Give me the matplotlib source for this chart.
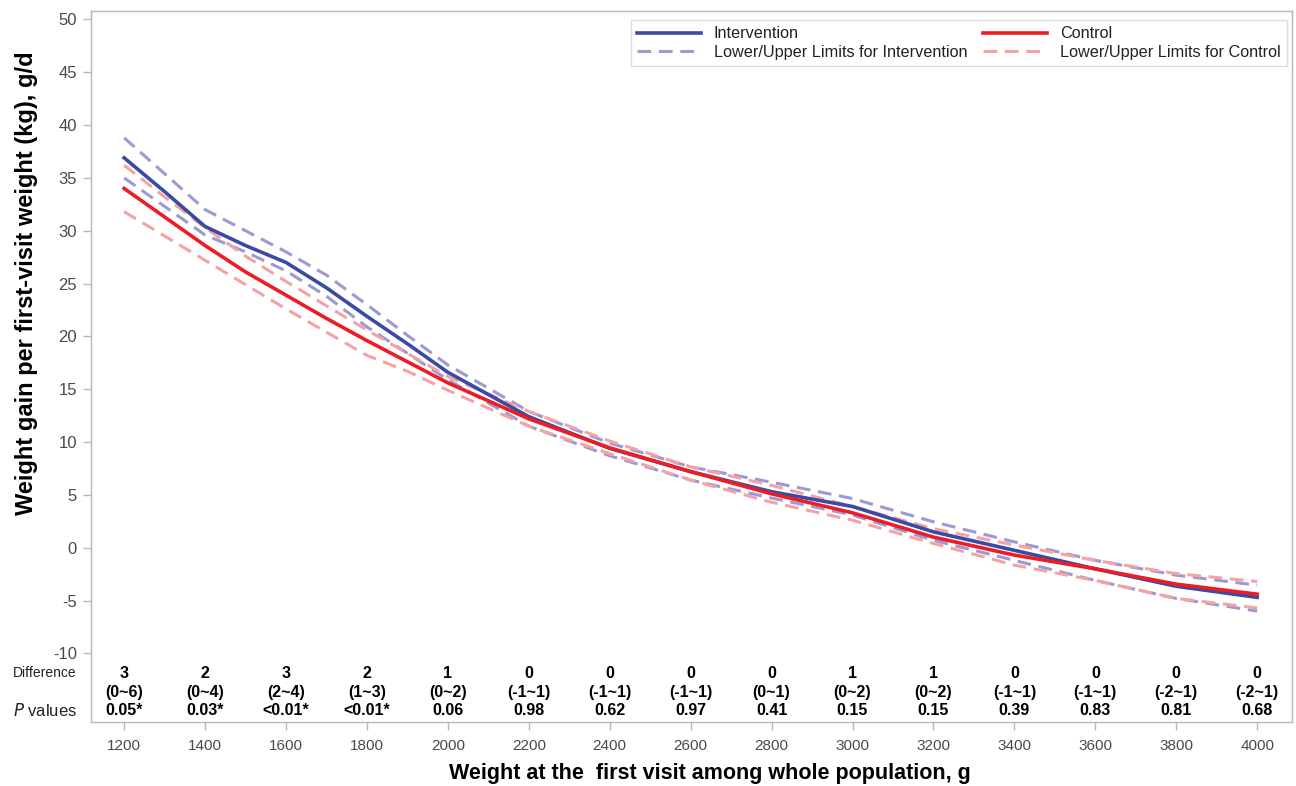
import numpy as np
import matplotlib
matplotlib.use("Agg")
import matplotlib.pyplot as plt
from matplotlib.lines import Line2D

plt.rcParams["font.family"] = ["Liberation Sans", "DejaVu Sans"]
plt.rcParams["axes.unicode_minus"] = False

# Weight at first visit (g), x positions of the curve readings
weights = [1200, 1300, 1400, 1500, 1600, 1700, 1800, 1900, 2000, 2200, 2400,
           2600, 2800, 3000, 3200, 3400, 3600, 3800, 4000]

# Weight gain per first-visit weight, g/d
intervention = [36.9, 33.7, 30.4, 28.6, 27.0, 24.6, 21.9, 19.3, 16.6, 12.4,
                9.4, 7.2, 5.3, 3.9, 1.5, -0.25, -2.0, -3.65, -4.7]
intervention_upper = [38.8, 35.4, 32.0, 30.0, 28.0, 25.8, 23.0, 20.1, 17.3, 12.9,
                      9.9, 7.65, 6.2, 4.65, 2.45, 0.55, -1.2, -2.6, -3.55]
intervention_lower = [35.0, 32.3, 29.6, 28.0, 26.2, 23.8, 20.9, 18.4, 15.9, 11.5,
                      8.7, 6.4, 4.7, 3.1, 0.7, -1.2, -3.1, -4.8, -6.0]
control = [34.0, 31.3, 28.6, 26.1, 23.9, 21.7, 19.6, 17.6, 15.6, 12.2,
           9.45, 7.2, 5.1, 3.3, 1.0, -0.7, -2.0, -3.45, -4.4]
control_upper = [36.2, 33.2, 30.3, 27.6, 25.2, 22.9, 20.6, 18.4, 16.2, 12.9,
                 10.1, 7.65, 5.9, 3.9, 1.8, 0.25, -1.2, -2.45, -3.2]
control_lower = [31.8, 29.5, 27.2, 24.9, 22.6, 20.4, 18.2, 16.7, 14.9, 11.5,
                 8.9, 6.4, 4.3, 2.6, 0.4, -1.65, -3.1, -4.8, -5.7]

# Table under the curves, one column per tick
tick_weights = [1200, 1400, 1600, 1800, 2000, 2200, 2400, 2600, 2800, 3000,
                3200, 3400, 3600, 3800, 4000]
difference = ["3", "2", "3", "2", "1", "0", "0", "0", "0", "1", "1", "0", "0", "0", "0"]
diff_ci = ["(0~6)", "(0~4)", "(2~4)", "(1~3)", "(0~2)", "(-1~1)", "(-1~1)", "(-1~1)",
           "(0~1)", "(0~2)", "(0~2)", "(-1~1)", "(-1~1)", "(-2~1)", "(-2~1)"]
p_values = ["0.05*", "0.03*", "<0.01*", "<0.01*", "0.06", "0.98", "0.62", "0.97",
            "0.41", "0.15", "0.15", "0.39", "0.83", "0.81", "0.68"]

BLUE = "#3b4ba3"
RED = "#ee1c25"
BLUE_LIGHT = "#9d99d2"
RED_LIGHT = "#f4a3a3"
GREY = "#b4b8bc"

fig = plt.figure(figsize=(12.96, 7.86), dpi=100)
ax = fig.add_axes([0.0702, 0.0814, 0.9267, 0.9046])

dash = (4.5, 2.5)
ax.plot(weights, intervention_upper, color=BLUE_LIGHT, lw=2.2, dashes=dash)
ax.plot(weights, intervention_lower, color=BLUE_LIGHT, lw=2.2, dashes=dash)
ax.plot(weights, control_upper, color=RED_LIGHT, lw=2.2, dashes=dash)
ax.plot(weights, control_lower, color=RED_LIGHT, lw=2.2, dashes=dash)
ax.plot(weights, intervention, color=BLUE, lw=2.6)
ax.plot(weights, control, color=RED, lw=2.6)

ax.set_xlim(1118, 4086)
ax.set_ylim(-16.5, 50.8)
ax.set_xticks(tick_weights)
ax.set_yticks(np.arange(-10, 51, 5))

for s in ax.spines.values():
    s.set_color(GREY)
    s.set_linewidth(1.0)
ax.tick_params(axis="both", colors=GREY, labelcolor="#4a4a4a", length=6, width=1)
ax.tick_params(axis="y", labelsize=12, pad=4)
ax.tick_params(axis="x", labelsize=11, pad=6)

# table rows inside the plot area
xt = ax.get_xaxis_transform()
for x, d, ci, p in zip(tick_weights, difference, diff_ci, p_values):
    ax.text(x, 0.0689, d, transform=xt, ha="center", va="center",
            fontsize=11.5, fontweight="bold")
    ax.text(x, 0.0422, ci, transform=xt, ha="center", va="center",
            fontsize=11.5, fontweight="bold")
    ax.text(x, 0.0155, p, transform=xt, ha="center", va="center",
            fontsize=11.5, fontweight="bold")

ax.text(-0.012, 0.0689, "Difference", transform=ax.transAxes, ha="right",
        va="center", fontsize=10, color="#222222")
ax.text(-0.012, 0.0155, "$\\it{P}$ values", transform=ax.transAxes, ha="right",
        va="center", fontsize=12, color="#222222")

ax.set_xlabel("Weight at the  first visit among whole population, g",
              fontsize=15.5, fontweight="bold")
ax.xaxis.set_label_coords(0.515, -0.057)
ax.set_ylabel("Weight gain per first-visit weight (kg), g/d",
              fontsize=17, fontweight="bold")
ax.yaxis.set_label_coords(-0.0445, 0.617)

handles = [
    Line2D([], [], color=BLUE, lw=2.6),
    Line2D([], [], color=BLUE_LIGHT, lw=2.2, dashes=dash),
    Line2D([], [], color=RED, lw=2.6),
    Line2D([], [], color=RED_LIGHT, lw=2.2, dashes=dash),
]
labels = ["Intervention", "Lower/Upper Limits for Intervention",
          "Control", "Lower/Upper Limits for Control"]
leg = ax.legend(handles, labels, ncol=2, loc="upper right", fontsize=11.7,
                frameon=True, fancybox=False, handlelength=3.9,
                handletextpad=0.8, columnspacing=1.0, borderpad=0.4,
                borderaxespad=0.0, labelspacing=0.2,
                bbox_to_anchor=(0.9958, 0.9874))
leg.get_frame().set_edgecolor("#d4d4d4")
leg.get_frame().set_linewidth(1.0)
for t in leg.get_texts():
    t.set_color("#222222")

fig.savefig("out.png", dpi=100)
